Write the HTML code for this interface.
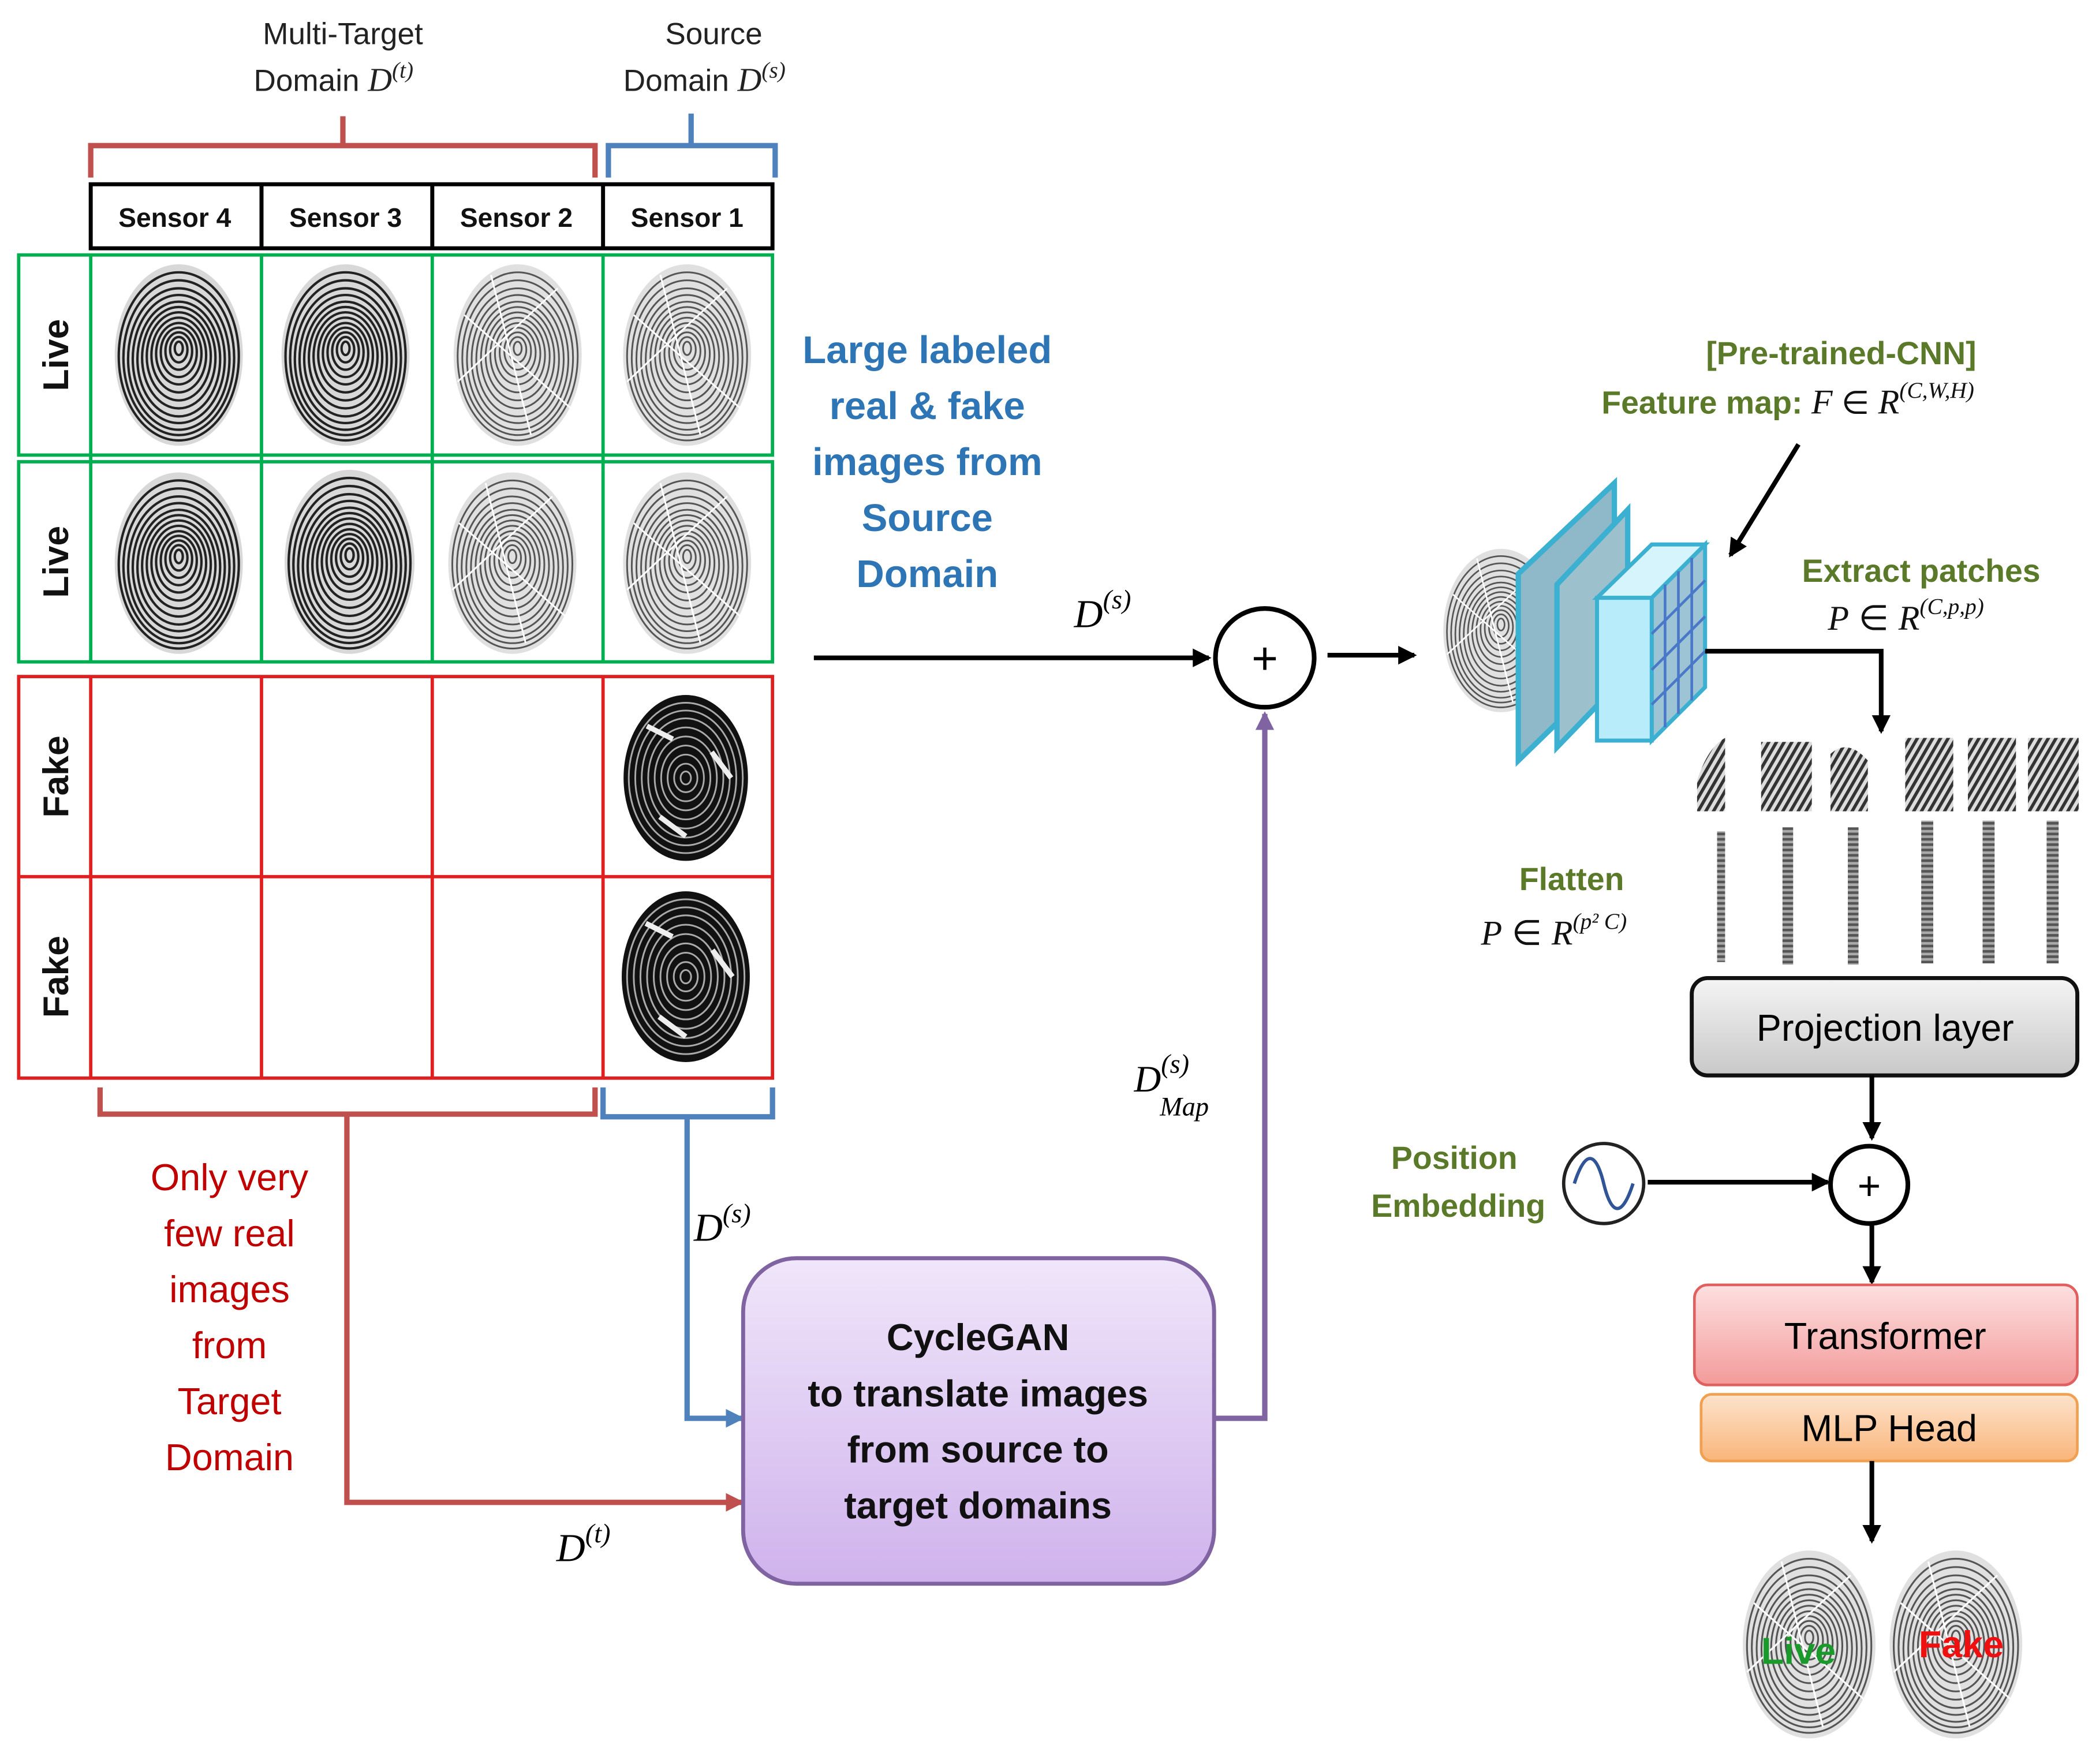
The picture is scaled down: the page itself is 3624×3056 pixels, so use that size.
<!DOCTYPE html>
<html><head><meta charset="utf-8"><style>
html,body{margin:0;padding:0;background:#fff;}
svg{display:block;}
text{font-family:"Liberation Sans","DejaVu Sans",sans-serif;}
.m{font-family:"Liberation Serif",serif;font-style:italic;}
</style></head><body>
<svg width="3624" height="3056" viewBox="0 0 1568 1322" xmlns="http://www.w3.org/2000/svg">
<defs>
<marker id="ak2" markerWidth="14" markerHeight="14" refX="12" refY="7" orient="auto" markerUnits="userSpaceOnUse"><path d="M0,0 L14,7 L0,14 z" fill="#000"/></marker>
<marker id="ar" markerWidth="14" markerHeight="14" refX="12" refY="7" orient="auto" markerUnits="userSpaceOnUse"><path d="M0,0 L14,7 L0,14 z" fill="#c0504d"/></marker>
<marker id="ab" markerWidth="14" markerHeight="14" refX="12" refY="7" orient="auto" markerUnits="userSpaceOnUse"><path d="M0,0 L14,7 L0,14 z" fill="#4f81bd"/></marker>
<marker id="ap" markerWidth="14" markerHeight="14" refX="12" refY="7" orient="auto" markerUnits="userSpaceOnUse"><path d="M0,0 L14,7 L0,14 z" fill="#8064a2"/></marker>
<symbol id="fp" viewBox="-50 -70 100 140">
<ellipse cx="0" cy="0" rx="48" ry="68" fill="#d8d8d8"/>
<g fill="none" stroke="#222" stroke-width="1.8">
<ellipse cx="0" cy="-5" rx="3" ry="5"/><ellipse cx="0" cy="-4" rx="6.5" ry="9.5"/><ellipse cx="0" cy="-3" rx="10" ry="14"/><ellipse cx="0" cy="-2" rx="13.5" ry="18.5"/><ellipse cx="0" cy="-1" rx="17" ry="23"/><ellipse cx="0" cy="0" rx="20.5" ry="28"/><ellipse cx="0" cy="1" rx="24" ry="33"/><ellipse cx="0" cy="2" rx="27.5" ry="38"/><ellipse cx="0" cy="3" rx="31" ry="43"/><ellipse cx="0" cy="3" rx="34.5" ry="48"/><ellipse cx="0" cy="3" rx="38" ry="53"/><ellipse cx="0" cy="2" rx="41.5" ry="58"/><ellipse cx="0" cy="1" rx="45" ry="63"/>
</g></symbol>
<symbol id="fpl" viewBox="-50 -70 100 140">
<ellipse cx="0" cy="0" rx="48" ry="68" fill="#e0e0e0"/>
<g fill="none" stroke="#555" stroke-width="1.3">
<ellipse cx="0" cy="-5" rx="3" ry="5"/><ellipse cx="0" cy="-4" rx="6.5" ry="9.5"/><ellipse cx="0" cy="-3" rx="10" ry="14"/><ellipse cx="0" cy="-2" rx="13.5" ry="18.5"/><ellipse cx="0" cy="-1" rx="17" ry="23"/><ellipse cx="0" cy="0" rx="20.5" ry="28"/><ellipse cx="0" cy="1" rx="24" ry="33"/><ellipse cx="0" cy="2" rx="27.5" ry="38"/><ellipse cx="0" cy="3" rx="31" ry="43"/><ellipse cx="0" cy="3" rx="34.5" ry="48"/><ellipse cx="0" cy="3" rx="38" ry="53"/><ellipse cx="0" cy="2" rx="41.5" ry="58"/><ellipse cx="0" cy="1" rx="45" ry="63"/>
<path d="M-40,-30 L40,40 M-45,20 L30,-50 M-20,-60 L10,60" stroke="#fff"/>
</g></symbol>
<symbol id="fpd" viewBox="-50 -70 100 140">
<ellipse cx="0" cy="0" rx="48" ry="64" fill="#111"/>
<g fill="none" stroke="#aaa" stroke-width="1.3">
<ellipse cx="0" cy="0" rx="4" ry="5"/><ellipse cx="0" cy="0" rx="9" ry="11"/><ellipse cx="0" cy="0" rx="14" ry="18"/><ellipse cx="0" cy="0" rx="19" ry="25"/><ellipse cx="0" cy="0" rx="24" ry="32"/><ellipse cx="0" cy="0" rx="29" ry="39"/><ellipse cx="0" cy="0" rx="34" ry="46"/><ellipse cx="0" cy="0" rx="39" ry="52"/><ellipse cx="0" cy="0" rx="44" ry="58"/>
<path d="M-30,-40 L-10,-30 M20,-20 L35,0 M-20,30 L0,45" stroke="#eee" stroke-width="4"/>
</g></symbol>
<pattern id="st" width="5" height="5" patternUnits="userSpaceOnUse" patternTransform="rotate(30)"><rect width="5" height="5" fill="#ddd"/><rect width="2.4" height="5" fill="#333"/></pattern>
<pattern id="sv" width="4" height="4" patternUnits="userSpaceOnUse"><rect width="4" height="4" fill="#aaa"/><rect width="4" height="2" fill="#555"/></pattern>
<linearGradient id="gp" x1="0" y1="0" x2="0" y2="1"><stop offset="0" stop-color="#f0e6fa"/><stop offset="1" stop-color="#cfb2ec"/></linearGradient>
<linearGradient id="gg" x1="0" y1="0" x2="0" y2="1"><stop offset="0" stop-color="#f4f4f4"/><stop offset="1" stop-color="#c8c8c8"/></linearGradient>
<linearGradient id="gr" x1="0" y1="0" x2="0" y2="1"><stop offset="0" stop-color="#fde0e0"/><stop offset="1" stop-color="#f39a9a"/></linearGradient>
<linearGradient id="go" x1="0" y1="0" x2="0" y2="1"><stop offset="0" stop-color="#fde3cc"/><stop offset="1" stop-color="#f9b57a"/></linearGradient>
</defs>

<g font-size="23" fill="#222" text-anchor="middle">
<text x="257" y="33">Multi-Target</text>
<text x="250" y="68">Domain <tspan class="m" font-size="25">D</tspan><tspan class="m" font-size="17" dy="-10">(t)</tspan></text>
<text x="535" y="33">Source</text>
<text x="528" y="68">Domain <tspan class="m" font-size="25">D</tspan><tspan class="m" font-size="17" dy="-10">(s)</tspan></text>
</g>
<path d="M68,133 V109 H446 V133 M257,109 V87" fill="none" stroke="#c0504d" stroke-width="4"/>
<path d="M456,133 V109 H581 V133 M518,109 V85" fill="none" stroke="#4f81bd" stroke-width="4"/>

<rect x="68" y="138" width="511" height="48" fill="#fff" stroke="#000" stroke-width="3"/>
<path d="M196,138 V186 M324,138 V186 M452,138 V186" stroke="#000" stroke-width="3"/>
<g font-size="20" font-weight="bold" text-anchor="middle" fill="#111">
<text x="131" y="170">Sensor 4</text><text x="259" y="170">Sensor 3</text><text x="387" y="170">Sensor 2</text><text x="515" y="170">Sensor 1</text>
</g>

<g fill="none" stroke-width="2.5">
<rect x="14" y="191" width="565" height="150" stroke="#00b050"/>
<rect x="14" y="346" width="565" height="150" stroke="#00b050"/>
<path d="M68,191 V496 M196,191 V496 M324,191 V496 M452,191 V496" stroke="#00b050"/>
<rect x="14" y="507" width="565" height="301" stroke="#e02020"/>
<path d="M14,657 H579 M68,507 V808 M196,507 V808 M324,507 V808 M452,507 V808" stroke="#e02020"/>
</g>
<g font-size="27" font-weight="bold" fill="#111" text-anchor="middle">
<text transform="translate(51,266) rotate(-90)">Live</text>
<text transform="translate(51,421) rotate(-90)">Live</text>
<text transform="translate(51,582) rotate(-90)">Fake</text>
<text transform="translate(51,732) rotate(-90)">Fake</text>
</g>
<use href="#fp" x="80" y="196" width="108" height="140"/>
<use href="#fp" x="204" y="196" width="110" height="140"/>
<use href="#fpl" x="336" y="196" width="104" height="140"/>
<use href="#fpl" x="460" y="196" width="110" height="140"/>
<use href="#fp" x="80" y="352" width="108" height="140"/>
<use href="#fp" x="204" y="350" width="116" height="142"/>
<use href="#fpl" x="334" y="352" width="100" height="140"/>
<use href="#fpl" x="460" y="352" width="110" height="140"/>
<use href="#fpd" x="458" y="515" width="112" height="136"/>
<use href="#fpd" x="458" y="662" width="112" height="140"/>

<path d="M75,815 V835 H446 V815" fill="none" stroke="#c0504d" stroke-width="4"/>
<path d="M452,815 V837 H579 V815" fill="none" stroke="#4f81bd" stroke-width="4"/>
<path d="M260,835 V1126 H556" fill="none" stroke="#c0504d" stroke-width="4" marker-end="url(#ar)"/>
<path d="M515,837 V1063 H556" fill="none" stroke="#4f81bd" stroke-width="4" marker-end="url(#ab)"/>

<g font-size="28" fill="#c00000" text-anchor="middle">
<text x="172" y="892">Only very</text><text x="172" y="934">few real</text><text x="172" y="976">images</text><text x="172" y="1018">from</text><text x="172" y="1060">Target</text><text x="172" y="1102">Domain</text>
</g>
<text class="m" x="520" y="930" font-size="30">D<tspan font-size="20" dy="-14">(s)</tspan></text>
<text class="m" x="417" y="1170" font-size="30">D<tspan font-size="20" dy="-14">(t)</tspan></text>

<rect x="557" y="943" width="353" height="244" rx="40" fill="url(#gp)" stroke="#8064a2" stroke-width="3"/>
<g font-size="28" font-weight="bold" text-anchor="middle" fill="#111">
<text x="733" y="1012">CycleGAN</text><text x="733" y="1054">to translate images</text><text x="733" y="1096">from source to</text><text x="733" y="1138">target domains</text>
</g>
<path d="M910,1063 H948 V535" fill="none" stroke="#8064a2" stroke-width="4" marker-end="url(#ap)"/>
<text class="m" x="850" y="818" font-size="28">D<tspan font-size="20" dy="-14">(s)</tspan><tspan font-size="20" dx="-22" dy="32">Map</tspan></text>

<g font-size="29" font-weight="bold" fill="#2e75b6" text-anchor="middle">
<text x="695" y="272">Large labeled</text><text x="695" y="314">real &amp; fake</text><text x="695" y="356">images from</text><text x="695" y="398">Source</text><text x="695" y="440">Domain</text>
</g>
<path d="M610,493 H906" stroke="#000" stroke-width="3.5" marker-end="url(#ak2)"/>
<text class="m" x="805" y="470" font-size="30">D<tspan font-size="20" dy="-14">(s)</tspan></text>
<circle cx="948" cy="493" r="37" fill="#fff" stroke="#000" stroke-width="3.5"/>
<text x="948" y="505" font-size="34" text-anchor="middle">+</text>
<path d="M995,491 H1060" stroke="#000" stroke-width="3.5" marker-end="url(#ak2)"/>

<use href="#fpl" x="1080" y="385" width="90" height="175"/>
<polygon points="1138,430 1210,362 1210,500 1138,570" fill="#8fb8c8" stroke="#3bb0d0" stroke-width="4"/>
<polygon points="1167,438 1220,382 1220,505 1167,560" fill="#9cc0cc" stroke="#3bb0d0" stroke-width="4"/>
<polygon points="1197,448 1238,408 1278,408 1238,448" fill="#d6f4fc" stroke="#3bb0d0" stroke-width="3"/>
<polygon points="1238,448 1278,408 1278,515 1238,555" fill="#9dc4d4" stroke="#3bb0d0" stroke-width="3"/>
<rect x="1197" y="448" width="41" height="107" fill="#b8ecfa" stroke="#3bb0d0" stroke-width="3"/>
<g stroke="#4a78c8" stroke-width="2">
<path d="M1248,438 V545 M1258,428 V535 M1268,418 V525 M1238,475 L1278,435 M1238,502 L1278,462 M1238,528 L1278,488"/>
</g>
<g font-size="24" font-weight="bold" fill="#5a7a2a" text-anchor="middle">
<text x="1380" y="273">[Pre-trained-CNN]</text>
<text x="1340" y="310">Feature map: <tspan class="m" font-weight="normal" fill="#111" font-size="26">F</tspan><tspan fill="#111" font-weight="normal"> ∈ </tspan><tspan class="m" font-weight="normal" fill="#111" font-size="26">R</tspan><tspan class="m" font-weight="normal" fill="#111" font-size="17" dy="-12">(C,W,H)</tspan></text>
<text x="1440" y="436">Extract patches</text>
<text x="1178" y="667">Flatten</text>
<text x="1090" y="876">Position</text>
<text x="1093" y="912">Embedding</text>
</g>
<text x="1370" y="472" font-size="26" fill="#111"><tspan class="m">P</tspan> ∈ <tspan class="m">R</tspan><tspan class="m" font-size="17" dy="-12">(C,p,p)</tspan></text>
<text x="1110" y="708" font-size="26" fill="#111"><tspan class="m">P</tspan> ∈ <tspan class="m">R</tspan><tspan class="m" font-size="17" dy="-12">(p² C)</tspan></text>
<path d="M1348,333 L1297,416" stroke="#000" stroke-width="3.5" marker-end="url(#ak2)"/>
<path d="M1278,488 H1410 V548" fill="none" stroke="#000" stroke-width="3.5" marker-end="url(#ak2)"/>

<g fill="url(#st)">
<path d="M1272,608 L1272,585 Q1280,560 1293,553 V608 Z"/>
<rect x="1320" y="556" width="38" height="52"/>
<path d="M1372,608 V565 Q1385,553 1400,570 V608 Z"/>
<rect x="1428" y="553" width="36" height="55"/>
<rect x="1475" y="553" width="36" height="55"/>
<rect x="1520" y="553" width="38" height="55"/>
</g>
<g fill="url(#sv)">
<rect x="1287" y="623" width="6" height="98"/>
<rect x="1336" y="620" width="8" height="103"/>
<rect x="1385" y="620" width="8" height="103"/>
<rect x="1440" y="615" width="9" height="107"/>
<rect x="1486" y="615" width="9" height="107"/>
<rect x="1534" y="615" width="9" height="107"/>
</g>

<rect x="1268" y="733" width="289" height="73" rx="12" fill="url(#gg)" stroke="#111" stroke-width="3"/>
<text x="1413" y="780" font-size="28" text-anchor="middle">Projection layer</text>
<path d="M1403,806 V853" stroke="#000" stroke-width="3.5" marker-end="url(#ak2)"/>
<circle cx="1401" cy="888" r="29" fill="#fff" stroke="#000" stroke-width="3.5"/>
<text x="1401" y="899" font-size="30" text-anchor="middle">+</text>
<circle cx="1202" cy="887" r="30" fill="#fff" stroke="#222" stroke-width="2.5"/>
<path d="M1180,887 C1188,862 1196,862 1202,887 C1208,912 1216,912 1224,887" fill="none" stroke="#2f5597" stroke-width="2.5"/>
<path d="M1235,886 H1370" stroke="#000" stroke-width="3.5" marker-end="url(#ak2)"/>
<path d="M1403,917 V961" stroke="#000" stroke-width="3.5" marker-end="url(#ak2)"/>
<rect x="1270" y="963" width="287" height="75" rx="10" fill="url(#gr)" stroke="#e06060" stroke-width="2"/>
<text x="1413" y="1011" font-size="28" text-anchor="middle">Transformer</text>
<rect x="1275" y="1045" width="282" height="50" rx="8" fill="url(#go)" stroke="#f0a050" stroke-width="2"/>
<text x="1416" y="1080" font-size="28" text-anchor="middle">MLP Head</text>
<path d="M1403,1095 V1155" stroke="#000" stroke-width="3.5" marker-end="url(#ak2)"/>
<use href="#fpl" x="1300" y="1160" width="112" height="145"/>
<use href="#fpl" x="1410" y="1160" width="112" height="145"/>
<text x="1348" y="1247" font-size="28" font-weight="bold" fill="#1a9a2a" text-anchor="middle">Live</text>
<text x="1470" y="1242" font-size="28" font-weight="bold" fill="#ee1010" text-anchor="middle">Fake</text>
</svg>
</body></html>
